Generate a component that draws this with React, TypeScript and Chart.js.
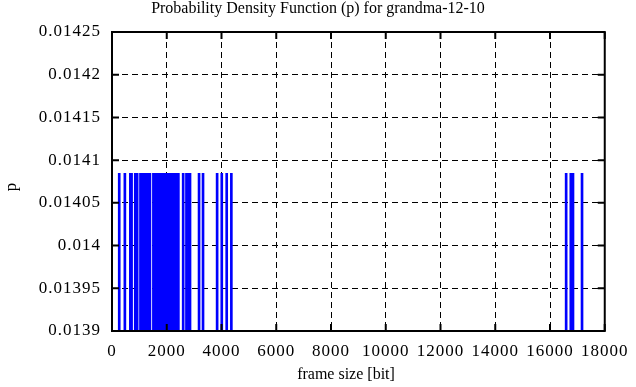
import React, { useEffect, useRef } from "react";
import { Chart, registerables } from "chart.js";

Chart.register(...registerables);

const TITLE = "Probability Density Function (p) for grandma-12-10";
const X_TITLE = "frame size [bit]";
const Y_TITLE = "p";

const frameSizes = [
  264, 470, 670, 715, 850, 920,
  1040, 1100, 1160, 1220, 1280, 1330, 1385,
  1515, 1530, 1545, 1560, 1585, 1600, 1630, 1650, 1670, 1700,
  1720, 1740, 1765, 1790, 1810, 1830, 1850, 1880, 1900, 1925,
  1945, 1970, 1990, 2010, 2040, 2060, 2085, 2100, 2130, 2150,
  2170, 2200, 2220, 2245, 2265, 2290, 2310, 2330, 2350, 2370,
  2390, 2400, 2410, 2420,
  2600, 2720, 2790, 2850,
  3180, 3325, 3840, 4010, 4190, 4360,
  16590, 16760, 16840, 17170,
];

const pValues = [
  0.0140845, 0.0140845, 0.0140845, 0.0140845, 0.0140845, 0.0140845,
  0.0140845, 0.0140845, 0.0140845, 0.0140845, 0.0140845, 0.0140845, 0.0140845,
  0.0140845, 0.0140845, 0.0140845, 0.0140845, 0.0140845, 0.0140845, 0.0140845, 0.0140845, 0.0140845, 0.0140845,
  0.0140845, 0.0140845, 0.0140845, 0.0140845, 0.0140845, 0.0140845, 0.0140845, 0.0140845, 0.0140845, 0.0140845,
  0.0140845, 0.0140845, 0.0140845, 0.0140845, 0.0140845, 0.0140845, 0.0140845, 0.0140845, 0.0140845, 0.0140845,
  0.0140845, 0.0140845, 0.0140845, 0.0140845, 0.0140845, 0.0140845, 0.0140845, 0.0140845, 0.0140845, 0.0140845,
  0.0140845, 0.0140845, 0.0140845, 0.0140845,
  0.0140845, 0.0140845, 0.0140845, 0.0140845,
  0.0140845, 0.0140845, 0.0140845, 0.0140845, 0.0140845, 0.0140845,
  0.0140845, 0.0140845, 0.0140845, 0.0140845,
];

const xTickValues = [0, 2000, 4000, 6000, 8000, 10000, 12000, 14000, 16000, 18000];
const yTickValues = [0.0139, 0.01395, 0.014, 0.01405, 0.0141, 0.01415, 0.0142, 0.01425];
const yTickLabels = ["0.0139", "0.01395", "0.014", "0.01405", "0.0141", "0.01415", "0.0142", "0.01425"];

const FONT_FAMILY = "'Liberation Serif', 'Times New Roman', serif";

const framePlugin = {
  id: "gnuplotFrame",
  beforeDraw(chart: any) {
    (chart.ctx as any).letterSpacing = "1px";
  },
  afterDatasetsDraw(chart: any) {
    const { ctx, chartArea } = chart;
    const { left, right, top, bottom } = chartArea;
    const xs = chart.scales.x;
    const ys = chart.scales.y;
    const tl = 7;
    ctx.save();
    ctx.strokeStyle = "#000";
    ctx.lineWidth = 2;
    ctx.setLineDash([]);
    ctx.beginPath();
    xs.ticks.forEach((t: any) => {
      const px = xs.getPixelForValue(t.value);
      ctx.moveTo(px, bottom);
      ctx.lineTo(px, bottom - tl);
      ctx.moveTo(px, top);
      ctx.lineTo(px, top + tl);
    });
    ys.ticks.forEach((t: any) => {
      const py = ys.getPixelForValue(t.value);
      ctx.moveTo(left, py);
      ctx.lineTo(left + tl, py);
      ctx.moveTo(right, py);
      ctx.lineTo(right - tl, py);
    });
    ctx.stroke();
    ctx.strokeRect(left, top, right - left, bottom - top);
    ctx.restore();
  },
  afterDraw(chart: any) {
    const { ctx } = chart;
    ctx.save();
    (ctx as any).letterSpacing = "0px";
    ctx.fillStyle = "#000";
    ctx.font = `16px ${FONT_FAMILY}`;
    ctx.textAlign = "center";
    ctx.textBaseline = "alphabetic";
    ctx.fillText(TITLE, 318, 13);
    ctx.font = `16px ${FONT_FAMILY}`;
    ctx.textBaseline = "middle";
    ctx.fillText(X_TITLE, 346, 375);
    ctx.font = `17px ${FONT_FAMILY}`;
    ctx.translate(12, 187);
    ctx.rotate(-Math.PI / 2);
    ctx.fillText(Y_TITLE, 0, 0);
    ctx.restore();
  },
};

export default function App() {
  const canvasRef = useRef<HTMLCanvasElement | null>(null);

  useEffect(() => {
    const canvas = canvasRef.current;
    if (!canvas) return;
    const tickFont = { family: FONT_FAMILY, size: 17 };
    const chart = new Chart(canvas, {
      type: "bar",
      data: {
        datasets: [
          {
            data: frameSizes.map((x, i) => ({ x, y: pValues[i] })),
            backgroundColor: "#0000ff",
            borderWidth: 0,
            barThickness: 2,
            grouped: false,
          } as any,
        ],
      },
      options: {
        responsive: false,
        animation: false,
        devicePixelRatio: 1,
        layout: { padding: { top: 32, right: 26, left: 0, bottom: 0 } },
        plugins: {
          legend: { display: false },
          tooltip: { enabled: false },
          title: { display: false },
        },
        scales: {
          x: {
            type: "linear",
            min: 0,
            max: 18000,
            offset: false,
            afterBuildTicks: (scale: any) => {
              scale.ticks = xTickValues.map((v) => ({ value: v }));
            },
            afterFit: (scale: any) => {
              scale.height = 56;
            },
            ticks: {
              color: "#000",
              font: tickFont,
              padding: 10,
              maxRotation: 0,
              autoSkip: false,
              callback: (v: any) => String(v),
            },
            grid: {
              color: "#000",
              lineWidth: 1,
              drawTicks: false,
              offset: false,
            },
            border: { display: false, dash: [6, 4] },
            title: { display: false },
          },
          y: {
            type: "linear",
            min: 0.0139,
            max: 0.01425,
            afterBuildTicks: (scale: any) => {
              scale.ticks = yTickValues.map((v) => ({ value: v }));
            },
            afterFit: (scale: any) => {
              scale.width = 112;
            },
            ticks: {
              color: "#000",
              font: tickFont,
              padding: 11,
              autoSkip: false,
              callback: (_v: any, i: number) => yTickLabels[i],
            },
            grid: {
              color: "#000",
              lineWidth: 1,
              drawTicks: false,
              offset: false,
            },
            border: { display: false, dash: [6, 4] },
            title: { display: false },
          },
        },
      },
      plugins: [framePlugin],
    });
    return () => chart.destroy();
  }, []);

  return (
    <div style={{ position: "absolute", left: 0, top: 0, width: 636, height: 387, background: "#fff" }}>
      <canvas ref={canvasRef} width={636} height={387} />
    </div>
  );
}
